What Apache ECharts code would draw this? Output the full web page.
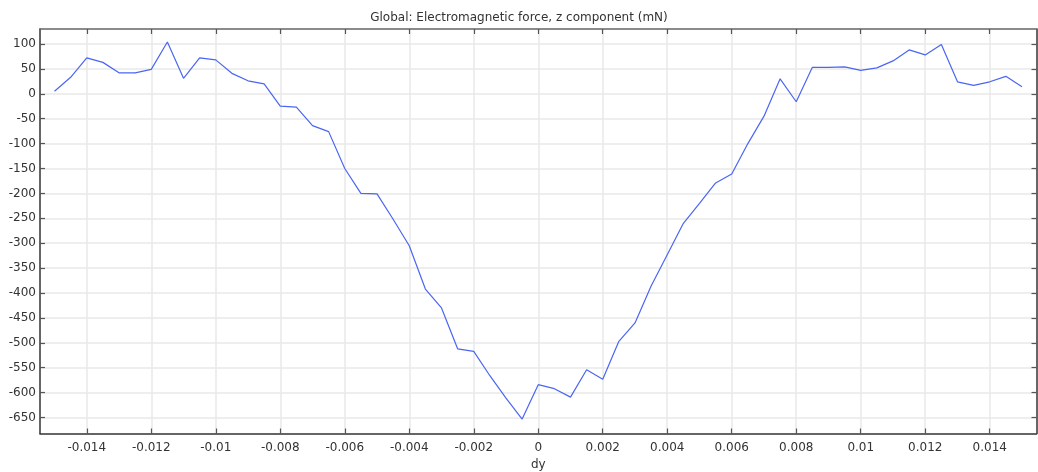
<!DOCTYPE html>
<html>
<head>
<meta charset="utf-8">
<script src="https://cdn.jsdelivr.net/npm/echarts@6/dist/echarts.min.js"></script>
<style>html,body{margin:0;padding:0;background:#fff;}#c{width:1038px;height:472px;}</style>
</head>
<body>
<div id="c"></div>
<script>
const dy = [-0.015,-0.0145,-0.014,-0.0135,-0.013,-0.0125,-0.012,-0.0115,-0.011,-0.0105,
  -0.01,-0.0095,-0.009,-0.0085,-0.008,-0.0075,-0.007,-0.0065,-0.006,-0.0055,
  -0.005,-0.0045,-0.004,-0.0035,-0.003,-0.0025,-0.002,-0.0015,-0.001,-0.0005,
  0,0.0005,0.001,0.0015,0.002,0.0025,0.003,0.0035,0.004,0.0045,
  0.005,0.0055,0.006,0.0065,0.007,0.0075,0.008,0.0085,0.009,0.0095,
  0.01,0.0105,0.011,0.0115,0.012,0.0125,0.013,0.0135,0.014,0.0145,0.015];
const fz = [5,33,72,63,42,42,49,104,31,72,
  68,41,26,20,-25,-27,-64,-76,-150,-200,
  -201,-252,-305,-392,-430,-512,-517,-566,-611,-653,
  -584,-592,-609,-554,-573,-497,-460,-386,-323,-260,
  -220,-179,-161,-100,-45,30,-16,53,53,54,
  47,52,66,88,78,99,24,17,24,35,14];
const xTicks = [-0.014,-0.012,-0.01,-0.008,-0.006,-0.004,-0.002,0,0.002,0.004,0.006,0.008,0.01,0.012,0.014];
const yTicks = [100,50,0,-50,-100,-150,-200,-250,-300,-350,-400,-450,-500,-550,-600,-650];
const titleText = 'Global: Electromagnetic force, z component (mN)';
const xName = 'dy';

const X_MIN = -0.01545, X_MAX = 0.01545, Y_MIN = -682, Y_MAX = 130;
const axisLineStyle = {color: '#333', width: 1.5};
const tickStyle = {color: '#555', width: 1.2};
const font = 'DejaVu Sans';

const chart = echarts.init(document.getElementById('c'), null, {renderer: 'canvas'});
chart.setOption({
  animation: false,
  backgroundColor: '#fff',
  title: {
    text: titleText, left: 'center', top: 7,
    textStyle: {fontFamily: font, fontSize: 12, fontWeight: 'normal', color: '#333'}
  },
  grid: {left: 40, right: 1.5, top: 29, bottom: 38.5, containLabel: false, outerBoundsMode: 'none'},
  xAxis: [{
    type: 'value', min: X_MIN, max: X_MAX, position: 'bottom',
    name: xName, nameLocation: 'middle', nameGap: 22,
    nameTextStyle: {fontFamily: font, fontSize: 12, color: '#333'},
    axisLine: {show: true, onZero: false, lineStyle: axisLineStyle},
    axisTick: {show: true, inside: true, length: 5, customValues: xTicks, lineStyle: tickStyle},
    axisLabel: {customValues: xTicks, margin: 8, fontFamily: font, fontSize: 12, color: '#333'},
    splitLine: {show: true, lineStyle: {color: '#e8e8e8', width: 1.5}}
  }, {
    type: 'value', min: X_MIN, max: X_MAX, position: 'top',
    axisLine: {show: true, onZero: false, lineStyle: {color: '#666', width: 1.5}},
    axisTick: {show: true, inside: true, length: 5, customValues: xTicks, lineStyle: tickStyle},
    axisLabel: {show: false},
    splitLine: {show: false}
  }],
  yAxis: [{
    type: 'value', min: Y_MIN, max: Y_MAX, position: 'left',
    axisLine: {show: true, onZero: false, lineStyle: axisLineStyle},
    axisTick: {show: true, inside: true, length: 5, customValues: yTicks, lineStyle: tickStyle},
    axisLabel: {customValues: yTicks, margin: 4, fontFamily: font, fontSize: 12, color: '#333'},
    splitLine: {show: true, lineStyle: {color: '#e8e8e8', width: 1.5}}
  }, {
    type: 'value', min: Y_MIN, max: Y_MAX, position: 'right',
    axisLine: {show: true, onZero: false, lineStyle: axisLineStyle},
    axisTick: {show: true, inside: true, length: 5, customValues: yTicks, lineStyle: tickStyle},
    axisLabel: {show: false},
    splitLine: {show: false}
  }],
  series: [{
    type: 'line',
    xAxisIndex: 0, yAxisIndex: 0,
    data: dy.map((x, i) => [x, fz[i]]),
    showSymbol: false,
    lineStyle: {color: '#4a66f2', width: 1.2},
    itemStyle: {color: '#4a66f2'}
  }]
});
</script>
</body>
</html>
